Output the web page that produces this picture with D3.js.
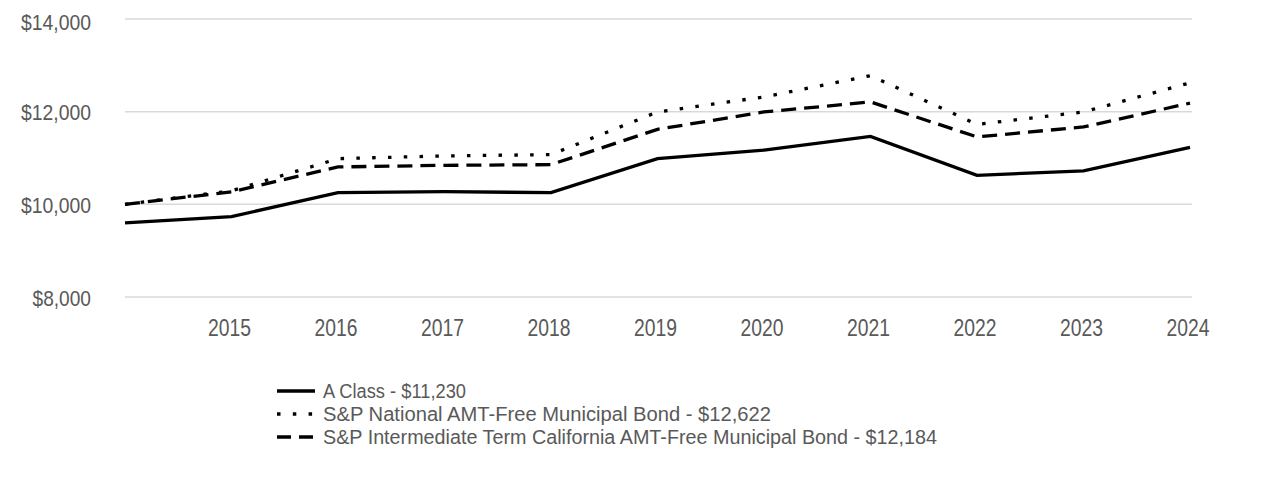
<!DOCTYPE html>
<html>
<head>
<meta charset="utf-8">
<script src="https://cdn.jsdelivr.net/npm/d3@7"></script>
<style>
  html, body { margin: 0; padding: 0; background: #fff; }
  svg { display: block; }
  text { font-family: "Liberation Sans", Arial, sans-serif; fill: #595959; }
</style>
</head>
<body>
<svg id="chart" width="1286" height="480"></svg>
<script>
const years = [2014, 2015, 2016, 2017, 2018, 2019, 2020, 2021, 2022, 2023, 2024];
const tickYears = [2015, 2016, 2017, 2018, 2019, 2020, 2021, 2022, 2023, 2024];
const yTicks = [8000, 10000, 12000, 14000];
const aClass = [9600, 9735, 10252, 10274, 10252, 10986, 11172, 11467, 10626, 10721, 11230];
const national = [10000, 10290, 10986, 11045, 11073, 11994, 12318, 12777, 11726, 11994, 12622];
const california = [10000, 10270, 10807, 10842, 10857, 11619, 11994, 12210, 11455, 11670, 12184];
const seriesNames = [
  "A Class - $11,230",
  "S&P National AMT-Free Municipal Bond - $12,622",
  "S&P Intermediate Term California AMT-Free Municipal Bond - $12,184"
];

const svg = d3.select("#chart");
const x = d3.scaleLinear().domain([2014, 2024]).range([125, 1190]);
const y = d3.scaleLinear().domain([8000, 14000]).range([297, 19]);

// gridlines
svg.append("g").selectAll("line").data(yTicks).join("line")
  .attr("x1", 125).attr("x2", 1192)
  .attr("y1", d => y(d)).attr("y2", d => y(d))
  .attr("stroke", "#d9d9d9").attr("stroke-width", 1.5);

// y labels (condensed to match the narrow face)
const fmt = d3.format(",");
svg.append("g").selectAll("text").data(yTicks).join("text")
  .attr("x", 91).attr("y", d => y(d) + (d === 14000 ? 10.5 : 8.8))
  .attr("text-anchor", "end").attr("font-size", 22.5)
  .attr("textLength", d => d >= 10000 ? 70 : 58.5)
  .attr("lengthAdjust", "spacingAndGlyphs")
  .text(d => "$" + fmt(d));

// x labels
svg.append("g").selectAll("text").data(tickYears).join("text")
  .attr("x", d => x(d) - 2).attr("y", 336)
  .attr("text-anchor", "middle").attr("font-size", 23)
  .attr("textLength", 43)
  .attr("lengthAdjust", "spacingAndGlyphs")
  .text(d => d);

const styles = [
  { data: aClass, dash: null },
  { data: national, dash: "3.5 12.3" },
  { data: california, dash: "15 8" }
];

const line = d3.line().x((d, i) => x(years[i])).y(d => y(d));

styles.forEach(s => {
  svg.append("path").datum(s.data)
    .attr("d", line)
    .attr("fill", "none").attr("stroke", "#000").attr("stroke-width", 3.3)
    .attr("stroke-linejoin", "miter")
    .attr("stroke-dasharray", s.dash);
});

// legend
const legendY = [391, 414, 437];
const legendDash = [null, "3.5 12.3", "14 8"];
const legendLen = [143, 448, 614];
const lg = svg.append("g");
seriesNames.forEach((name, i) => {
  lg.append("line")
    .attr("x1", 277).attr("x2", i === 1 ? 313 : 315)
    .attr("y1", legendY[i]).attr("y2", legendY[i])
    .attr("stroke", "#000").attr("stroke-width", 3.3)
    .attr("stroke-dasharray", legendDash[i]);
  lg.append("text")
    .attr("x", 323).attr("y", legendY[i] + 7)
    .attr("font-size", 19.5)
    .attr("textLength", legendLen[i])
    .attr("lengthAdjust", "spacingAndGlyphs")
    .text(name);
});
</script>
</body>
</html>
